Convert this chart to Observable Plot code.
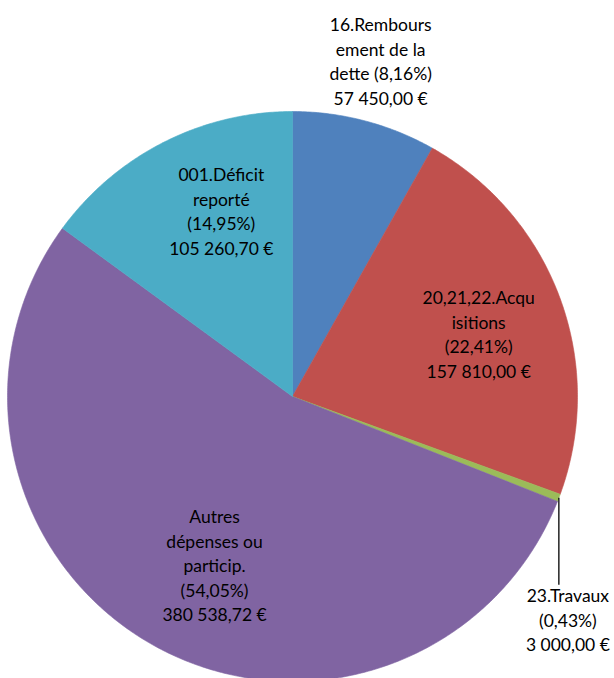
<!DOCTYPE html>
<html>
<head>
<meta charset="utf-8">
<script src="https://cdn.jsdelivr.net/npm/d3@7"></script>
<script src="https://cdn.jsdelivr.net/npm/@observablehq/plot@0.6"></script>
<style>
  html, body { margin: 0; padding: 0; background: #fff; }
  #chart svg { display: block; }
</style>
</head>
<body>
<div id="chart"></div>
<script>
// ---- data ----
const categories = [
  "16.Remboursement de la dette",
  "20,21,22.Acquisitions",
  "23.Travaux",
  "Autres dépenses ou particip.",
  "001.Déficit reporté"
];
const values = [57450.00, 157810.00, 3000.00, 380538.72, 105260.70];
const percentLabels = ["8,16%", "22,41%", "0,43%", "54,05%", "14,95%"];
const amountLabels = ["57 450,00 €", "157 810,00 €", "3 000,00 €", "380 538,72 €", "105 260,70 €"];
const wrappedNames = [
  "16.Rembours\nement de la\ndette ",
  "20,21,22.Acqu\nisitions\n",
  "23.Travaux\n",
  "Autres\ndépenses ou\nparticip.\n",
  "001.Déficit\nreporté\n"
];
const colors = ["#4F81BD", "#C0504D", "#9BBB59", "#8064A2", "#4BACC6"];

// ---- layout ----
const W = 614, H = 678;
const cx = 292, cy = 396, R = 285;
const labelRadius = [1.22, 0.69, 1.0, 0.65, 0.70];
const labelAngleShift = [0, 1.5, 0, -4, 6]; // degrees
const outside = [false, false, true, false, false];

const arcs = d3.pie().sort(null).value(d => d)(values);
const pts = [];
arcs.forEach((a, i) => {
  const cat = categories[i];
  pts.push({cat, x: 0, y: 0});
  const n = Math.max(2, Math.ceil((a.endAngle - a.startAngle) / (Math.PI / 360)));
  for (let k = 0; k <= n; k++) {
    const t = a.startAngle + (a.endAngle - a.startAngle) * k / n;
    pts.push({cat, x: Math.sin(t), y: Math.cos(t)});
  }
  pts.push({cat, x: 0, y: 0});
});

const labels = arcs.map((a, i) => {
  const mid = (a.startAngle + a.endAngle) / 2 + labelAngleShift[i] * Math.PI / 180;
  const r = labelRadius[i];
  return {
    cat: categories[i],
    x: r * Math.sin(mid),
    y: r * Math.cos(mid),
    text: wrappedNames[i] + "(" + percentLabels[i] + ")\n" + amountLabels[i],
    outside: outside[i]
  };
});
const inner = labels.filter(d => !d.outside);
const outer = labels.filter(d => d.outside);
const leaderDrop = 87 / R;
const leaders = outer.map(d => ({x1: d.x, y1: d.y, x2: d.x, y2: d.y - leaderDrop}));
const outerText = outer.map(d => ({...d, y: d.y - leaderDrop}));

const chart = Plot.plot({
  width: W,
  height: H,
  margin: 0,
  x: {domain: [-cx / R, (W - cx) / R], axis: null},
  y: {domain: [-(H - cy) / R, cy / R], axis: null},
  color: {domain: categories, range: colors},
  style: {fontFamily: "Lato, 'Open Sans', sans-serif", background: "#fff"},
  marks: [
    Plot.line(pts, {x: "x", y: "y", z: "cat", fill: "cat", stroke: "cat", strokeWidth: 0.6, curve: "linear-closed"}),
    Plot.link(leaders, {x1: "x1", y1: "y1", x2: "x2", y2: "y2", stroke: "#000", strokeWidth: 1.3}),
    Plot.text(inner, {x: "x", y: "y", text: "text", fontSize: 17.5, lineHeight: 1.4, fill: "#000", lineAnchor: "middle"}),
    Plot.text(outerText, {x: "x", y: "y", text: "text", fontSize: 17.5, lineHeight: 1.4, fill: "#000", lineAnchor: "top", dx: 9, dy: 0})
  ]
});
document.getElementById("chart").appendChild(chart);
</script>
</body>
</html>
